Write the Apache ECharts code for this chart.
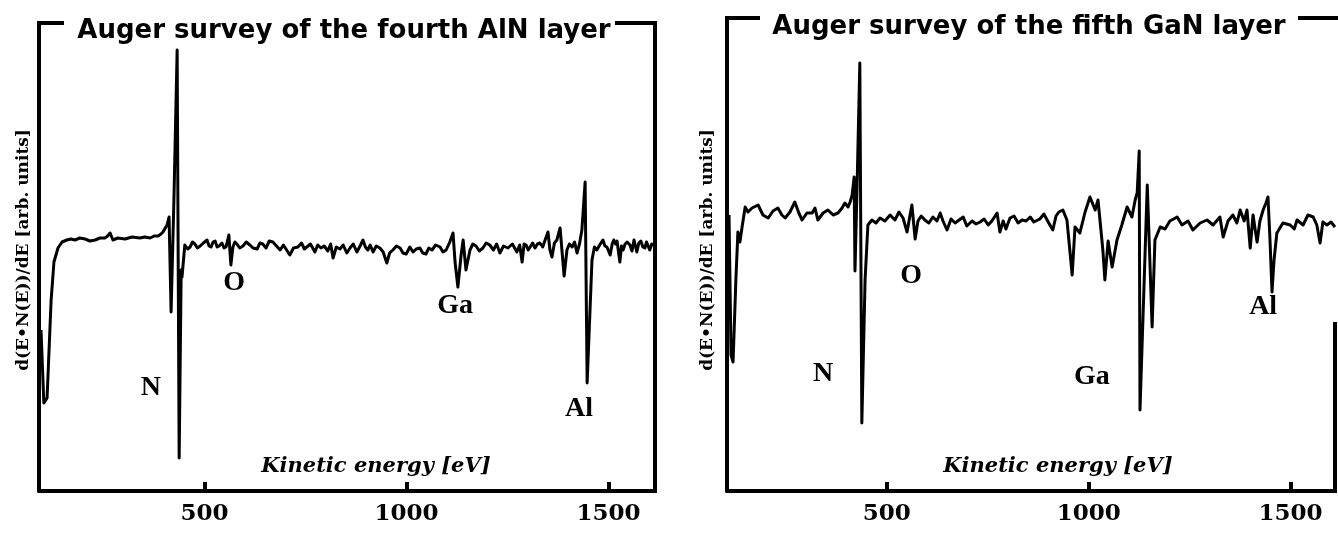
<!DOCTYPE html>
<html><head><meta charset="utf-8">
<script src="https://cdn.jsdelivr.net/npm/echarts@6/dist/echarts.min.js"></script>
<style>html,body{margin:0;padding:0;background:#fff}#c{width:1338px;height:538px}</style>
</head><body><div id="c"></div>
<script>
// ---- data ----
const tickValues = [500, 1000, 1500];
const leftTitle = 'Auger survey of the fourth AlN layer';
const rightTitle = 'Auger survey of the fifth GaN layer';
const yName = 'd(E\u2022N(E))/dE [arb. units]';
const xName = 'Kinetic energy [eV]';

// left panel spectrum: [kinetic energy eV, signal arb.]
const leftSpectrum = [[95,161],[102,88],[110,93],[120,191],[127,229],[137,243],[147,249],[159,251],[169,252],[179,251],[191,253],[204,252],[216,250],[229,251],[241,253],[253,253],[260,255],[266,258],[273,251],[285,253],[303,252],[320,254],[340,253],[352,254],[365,253],[375,255],[385,255],[392,257],[397,259],[407,266],[412,274],[417,179],[424,291],[432,441],[437,33],[442,221],[444,214],[451,246],
[458,242],[464,244],[470,249],[476,247],[482,243],[489,245],[497,248],[506,251],[511,245],[516,244],[521,249],[526,250],[531,244],[536,245],[543,248],[548,243],[553,244],[560,256],[565,226],[570,244],[575,249],[580,247],[587,243],[595,245],[603,249],[612,246],[620,243],[630,242],[637,248],[644,247],[652,243],[660,250],[669,249],[678,245],[687,241],[695,246],[703,241],[711,236],[720,243],[731,244],[740,248],[747,242],[753,244],[762,247],[773,239],[780,246],[788,243],[796,245],[805,240],[812,247],[818,233],[826,244],[835,242],[843,246],[852,238],[860,243],[868,247],[877,239],[885,245],[892,251],[898,244],[904,241],[910,246],[917,239],[925,245],[934,243],[942,239],[951,228],[958,238],[966,241],[975,245],[984,243],[991,238],[999,237],[1008,244],[1016,239],[1024,242],[1033,243],[1040,238],[1048,237],[1055,243],[1063,241],[1072,246],[1083,244],[1090,239],[1098,241],[1107,249],
[1115,258],[1120,229],[1127,204],[1135,236],[1140,251],[1147,221],[1157,241],[1164,247],[1172,245],[1180,240],[1189,243],[1197,248],[1206,246],[1215,241],[1223,247],[1231,238],[1240,245],[1251,243],[1262,247],[1273,239],[1280,246],[1286,229],[1291,247],[1296,246],[1301,241],[1306,244],[1312,248],[1318,243],[1324,247],[1330,248],[1337,244],[1343,251],[1350,259],[1355,241],[1360,234],[1366,248],[1372,251],[1380,263],[1390,215],[1397,241],[1403,247],[1410,244],[1416,249],[1422,238],[1428,247],[1434,261],[1442,309],[1447,108],[1459,231],[1465,244],[1471,241],[1478,246],[1486,251],[1491,245],[1496,244],[1504,236],[1509,247],[1513,251],[1517,247],[1521,250],[1528,229],[1532,245],[1536,241],[1541,247],[1546,249],[1553,246],[1558,240],[1563,251],[1570,239],[1575,248],[1580,250],[1585,244],[1590,243],[1594,249],[1597,251],[1602,241],[1607,247],[1612,246]];

// right panel spectrum
const rightEnergy = [109,114,119,126,131,136,141,149,156,166,181,193,206,218,230,240,248,260,272,282,290,302,315,322,329,342,354,367,379,389,396,404,409,414,419,421,426,433,438,446,453,463,473,483,495,508,520,530,540,550,557,562,570,577,585,594,604,614,624,632,639,649,659,669,679,689,698,711,721,731,741,751,760,773,780,788,795,805,815,825,835,845,855,864,879,889,901,911,919,926,936,946,951,959,966,978,991,1003,1016,1023,1035,1040,1048,1058,1070,1082,1095,1107,1115,1120,1125,1127,1145,1157,1164,1177,1189,1201,1219,1231,1246,1258,1276,1293,1308,1325,1333,1345,1357,1367,1375,1385,1392,1400,1407,1412,1417,1424,1432,1439,1444,1449,1454,1459,1466,1481,1499,1509,1516,1531,1543,1556,1565,1573,1580,1590,1600,1610];
const rightSignal = [276,136,129,211,259,249,263,284,279,283,286,276,273,280,283,276,273,279,289,278,271,278,278,283,271,278,281,276,278,283,288,284,289,296,314,220,301,428,68,211,266,271,268,273,270,276,271,279,273,259,275,286,252,270,275,271,268,274,270,278,270,261,272,268,271,274,265,270,267,269,272,266,270,278,259,270,262,273,275,268,271,270,274,269,272,277,268,261,275,279,281,271,250,216,264,258,279,294,281,291,241,211,250,224,251,266,284,274,291,298,340,81,306,164,251,264,262,270,274,266,270,261,268,271,266,274,254,270,276,268,281,270,281,243,276,262,249,270,281,288,294,251,199,231,258,268,266,262,271,266,276,274,266,248,269,266,269,264];

const peakNames = ['N', 'O', 'Ga', 'Al'];
const leftPeakE = [367, 573, 1120, 1427];
const leftPeakV = [103, 208, 185, 82];
const rightPeakE = [342, 560, 1008, 1432];
const rightPeakV = [117, 215, 114, 184];

// ---- layout ----
const L = {left: 39, top: 23, width: 616, height: 468, xmin: 90, xmax: 1615};
const R = {left: 727, top: 18, width: 608, height: 473, xmin: 104, xmax: 1610};
const BLACK = '#000';
const serif = 'DejaVu Serif';

const zip = (a, b) => a.map((v, i) => [v, b[i]]);
const peakData = (E, V) => peakNames.map((n, i) => ({name: n, value: [E[i], V[i]]}));

function xAxisFor(g, P) {
  return {
    type: 'value', gridIndex: g, min: P.xmin, max: P.xmax,
    splitLine: {show: false},
    axisLine: {show: true, lineStyle: {color: BLACK, width: 4}},
    axisTick: {show: true, inside: true, length: 9, customValues: tickValues, lineStyle: {color: BLACK, width: 4}},
    axisLabel: {show: true, customValues: tickValues, margin: 12, color: BLACK, fontFamily: serif,
      fontWeight: 'bold', fontSize: 23, formatter: v => String(v)}
  };
}
function yAxisFor(g, P) {
  return {
    type: 'value', gridIndex: g, min: 0, max: P.height,
    splitLine: {show: false},
    axisLine: {show: true, lineStyle: {color: BLACK, width: 4}},
    axisTick: {show: false}, axisLabel: {show: false}
  };
}
function lineSeries(g, data) {
  return {
    type: 'line', xAxisIndex: g, yAxisIndex: g, data,
    showSymbol: false, symbol: 'none', clip: true,
    lineStyle: {color: BLACK, width: 3, join: 'round'}
  };
}
function labelSeries(g, E, V) {
  return {
    type: 'scatter', xAxisIndex: g, yAxisIndex: g, data: peakData(E, V),
    symbolSize: 0, silent: true, itemStyle: {opacity: 1, color: BLACK},
    label: {show: true, position: 'inside', formatter: '{b}', color: '#000', opacity: 1,
      textBorderWidth: 0, fontFamily: 'Liberation Serif', fontWeight: 'bold', fontSize: 28}
  };
}
const ln = (x1, y1, x2, y2) => ({type: 'line', shape: {x1, y1, x2, y2}, style: {stroke: BLACK, lineWidth: 4}});
const txt = (x, y, text, font, rot) => ({
  type: 'text', x, y, rotation: rot || 0,
  style: {text, font, fill: BLACK, align: 'center', verticalAlign: 'middle'}
});

const chart = echarts.init(document.getElementById('c'), null, {renderer: 'canvas'});
chart.setOption({
  animation: false,
  backgroundColor: '#fff',
  grid: [
    {left: L.left, top: L.top, width: L.width, height: L.height},
    {left: R.left, top: R.top, width: R.width, height: R.height}
  ],
  xAxis: [xAxisFor(0, L), xAxisFor(1, R)],
  yAxis: [yAxisFor(0, L), yAxisFor(1, R)],
  series: [
    lineSeries(0, leftSpectrum),
    lineSeries(1, zip(rightEnergy, rightSignal)),
    labelSeries(0, leftPeakE, leftPeakV),
    labelSeries(1, rightPeakE, rightPeakV)
  ],
  graphic: [
    // frame brackets (left panel)
    ln(L.left - 2, L.top, L.left + 25, L.top),
    ln(L.left + L.width - 40, L.top, L.left + L.width + 2, L.top),
    ln(L.left + L.width, L.top - 2, L.left + L.width, L.top + L.height + 2),
    // frame brackets (right panel)
    ln(R.left - 2, R.top, R.left + 33, R.top),
    ln(R.left + R.width - 37, R.top, 1338, R.top),
    ln(R.left + R.width, 322, R.left + R.width, R.top + R.height + 2),
    // titles
    txt(344, 31, leftTitle, 'bold 26px "DejaVu Sans"'),
    txt(1029, 27, rightTitle, 'bold 26px "DejaVu Sans"'),
    // axis names
    txt(24, 250, yName, 'bold 17px "DejaVu Serif"', Math.PI / 2),
    txt(708, 250, yName, 'bold 17px "DejaVu Serif"', Math.PI / 2),
    txt(376, 467, xName, 'italic bold 21px "DejaVu Serif"'),
    txt(1058, 467, xName, 'italic bold 21px "DejaVu Serif"')
  ]
});
</script>
</body></html>
